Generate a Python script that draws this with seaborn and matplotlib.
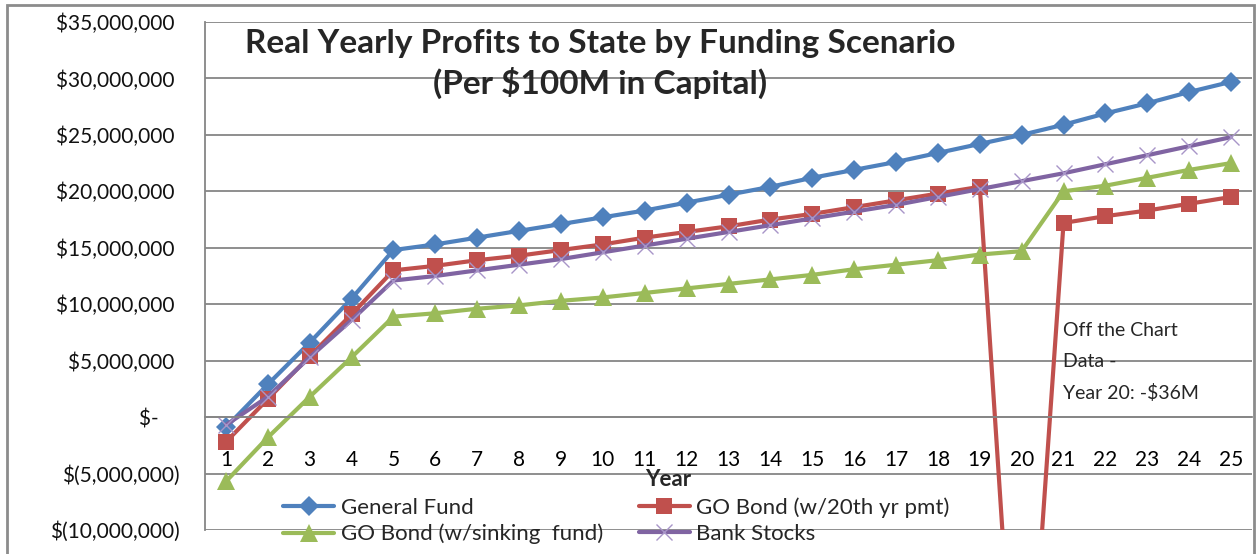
import numpy as np
import matplotlib
matplotlib.use("Agg")
import matplotlib.pyplot as plt
from matplotlib.patches import Rectangle
from matplotlib.ticker import FuncFormatter, MultipleLocator
import seaborn as sns

# ── Styling ────────────────────────────────────────────────
sns.set_theme(style="white")
plt.rcParams['font.family'] = ['Lato', 'DejaVu Sans']

GRID = '#868686'
COLORS = {'gf': '#4F81BD', 'go20': '#C0504D', 'gosf': '#9BBB59', 'bank': '#8064A2'}

# ── Data (real yearly profit, $ per $100M capital) ─────────
years = list(range(1, 26))

general_fund = [-0.9e6, 2.9e6, 6.6e6, 10.5e6, 14.8e6, 15.3e6, 15.9e6, 16.5e6,
                17.1e6, 17.7e6, 18.3e6, 19.0e6, 19.7e6, 20.4e6, 21.2e6, 21.9e6,
                22.6e6, 23.4e6, 24.2e6, 25.0e6, 25.9e6, 26.9e6, 27.8e6, 28.8e6,
                29.7e6]
go_bond_20th = [-2.2e6, 1.6e6, 5.4e6, 9.1e6, 13.0e6, 13.4e6, 13.9e6, 14.3e6,
                14.8e6, 15.3e6, 15.9e6, 16.4e6, 16.9e6, 17.5e6, 18.0e6, 18.6e6,
                19.2e6, 19.8e6, 20.4e6, -36.0e6, 17.2e6, 17.8e6, 18.3e6, 18.9e6,
                19.5e6]
go_bond_sink = [-5.7e6, -1.8e6, 1.8e6, 5.3e6, 8.9e6, 9.2e6, 9.6e6, 9.9e6,
                10.3e6, 10.6e6, 11.0e6, 11.4e6, 11.8e6, 12.2e6, 12.6e6, 13.1e6,
                13.5e6, 13.9e6, 14.4e6, 14.7e6, 20.0e6, 20.5e6, 21.2e6, 21.9e6,
                22.5e6]
bank_stocks = [-0.7e6, 1.8e6, 5.3e6, 8.6e6, 12.1e6, 12.5e6, 13.0e6, 13.5e6,
               14.0e6, 14.6e6, 15.2e6, 15.8e6, 16.4e6, 17.0e6, 17.6e6, 18.2e6,
               18.8e6, 19.5e6, 20.2e6, 20.9e6, 21.6e6, 22.4e6, 23.2e6, 24.0e6,
               24.8e6]

# ── Figure ────────────────────────────────────────────────
W, H = 1257, 554
fig = plt.figure(figsize=(W / 100, H / 100), dpi=100)
ax = fig.add_axes([205 / W, 24 / H, 1047 / W, 508 / H])

series = [
    ('General Fund', general_fund, COLORS['gf'], 'D', 10, COLORS['gf'], 0),
    ('GO Bond (w/20th yr pmt)', go_bond_20th, COLORS['go20'], 's', 12, COLORS['go20'], 0),
    ('GO Bond (w/sinking  fund)', go_bond_sink, COLORS['gosf'], '^', 13, COLORS['gosf'], 0),
    ('Bank Stocks', bank_stocks, COLORS['bank'], 'x', 11, '#A895C8', 1.0),
]
handles = {}
for name, vals, col, mk, ms, mec, mew in series:
    sns.lineplot(x=years, y=vals, ax=ax, color=col, linewidth=3, marker=mk,
                 markersize=ms, markeredgecolor=mec, markeredgewidth=mew,
                 estimator=None, sort=False, legend=False)
    handles[name] = ax.get_lines()[-1]

# ── Axes ──────────────────────────────────────────────────
ax.set_xlim(0.5, 25.5)
ax.set_ylim(-10e6, 35e6)
ax.set_yticks(np.arange(-10e6, 35e6 + 1, 5e6))


def money(v, _):
    v = int(round(v))
    if v == 0:
        return '$-    '
    if v < 0:
        return f'$({-v:,})'
    return f'${v:,} '


ax.yaxis.set_major_formatter(FuncFormatter(money))
ax.set_xticks(years)
ax.set_xticklabels([str(y) for y in years])
ax.xaxis.set_minor_locator(MultipleLocator(1, offset=0.5))
ax.tick_params(axis='x', which='major', length=0, pad=24, labelsize=15, colors='black')
ax.tick_params(axis='x', which='minor', length=6, width=1.2, direction='out', color=GRID)
ax.tick_params(axis='y', which='major', length=6, width=1.2, direction='out',
               color=GRID, pad=12, labelsize=15, labelcolor='#111111')

ax.yaxis.grid(True, color=GRID, linewidth=1.3)
ax.set_axisbelow(True)
for s in ['top', 'right']:
    ax.spines[s].set_visible(False)
ax.spines['left'].set_color(GRID)
ax.spines['left'].set_linewidth(1.3)
ax.spines['bottom'].set_position(('data', 0))
ax.spines['bottom'].set_color(GRID)
ax.spines['bottom'].set_linewidth(1.3)
ax.set_xlabel('')
ax.set_ylabel('')

# ── Titles & notes ────────────────────────────────────────
fig.text(600 / W, 1 - 64 / H,
         'Real Yearly Profits to State by Funding Scenario\n(Per $100M in Capital)',
         ha='center', va='center', fontsize=24, fontweight='bold',
         linespacing=1.35, parse_math=False)
fig.text(668 / W, 1 - 480 / H, 'Year', ha='center', va='center',
         fontsize=16, fontweight='bold')
fig.text(1063 / W, 1 - 362 / H, 'Off the Chart\nData -\nYear 20: -$36M',
         ha='left', va='center', fontsize=14, linespacing=1.95, parse_math=False)

# ── Legend ────────────────────────────────────────────────
order = ['General Fund', 'GO Bond (w/sinking  fund)',
         'GO Bond (w/20th yr pmt)', 'Bank Stocks']
fig.legend([handles[k] for k in order], order, ncol=2, frameon=False,
           loc='center left', bbox_to_anchor=(283 / W, 1 - 521 / H),
           fontsize=16, handlelength=2.3, handletextpad=0.3,
           columnspacing=1.6, labelspacing=0.25, borderaxespad=0,
           borderpad=0)

# outer chart border
fig.add_artist(Rectangle((7 / W, -0.02), 1247 / W, 1 - 5 / H + 0.02,
                         transform=fig.transFigure, fill=False,
                         edgecolor='#8C8C8C', linewidth=2))

plt.savefig('out.png', dpi=100, facecolor='white')
